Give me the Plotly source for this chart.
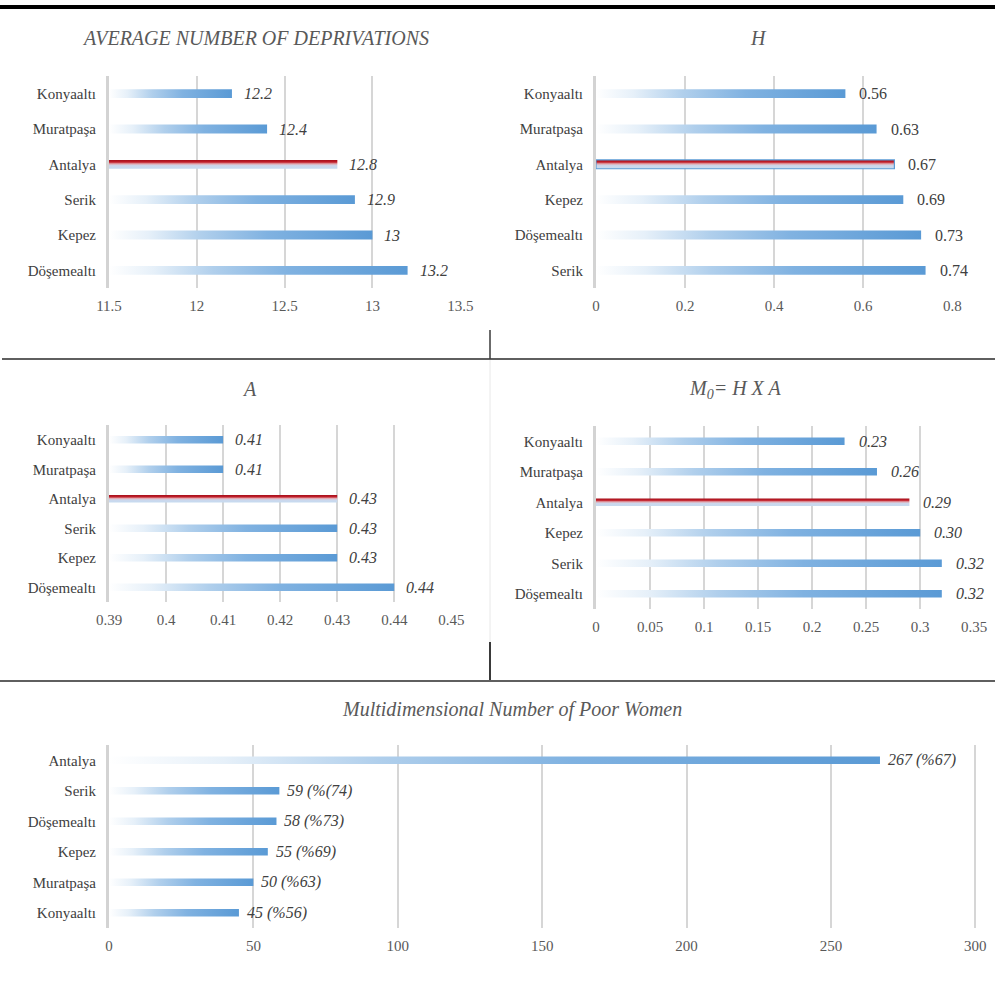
import plotly.graph_objects as go

# ---------------- data ----------------
avg_cats = ["Konyaaltı", "Muratpaşa", "Antalya", "Serik", "Kepez", "Döşemealtı"]
avg_vals = [12.2, 12.4, 12.8, 12.9, 13, 13.2]
avg_labels = ["12.2", "12.4", "12.8", "12.9", "13", "13.2"]
avg_ticks = [11.5, 12, 12.5, 13, 13.5]

h_cats = ["Konyaaltı", "Muratpaşa", "Antalya", "Kepez", "Döşemealtı", "Serik"]
h_vals = [0.56, 0.63, 0.67, 0.69, 0.73, 0.74]
h_labels = ["0.56", "0.63", "0.67", "0.69", "0.73", "0.74"]
h_ticks = [0, 0.2, 0.4, 0.6, 0.8]

a_cats = ["Konyaaltı", "Muratpaşa", "Antalya", "Serik", "Kepez", "Döşemealtı"]
a_vals = [0.41, 0.41, 0.43, 0.43, 0.43, 0.44]
a_labels = ["0.41", "0.41", "0.43", "0.43", "0.43", "0.44"]
a_ticks = [0.39, 0.40, 0.41, 0.42, 0.43, 0.44, 0.45]

m_cats = ["Konyaaltı", "Muratpaşa", "Antalya", "Kepez", "Serik", "Döşemealtı"]
m_vals = [0.23, 0.26, 0.29, 0.30, 0.32, 0.32]
m_labels = ["0.23", "0.26", "0.29", "0.30", "0.32", "0.32"]
m_ticks = [0, 0.05, 0.1, 0.15, 0.2, 0.25, 0.3, 0.35]

p_cats = ["Antalya", "Serik", "Döşemealtı", "Kepez", "Muratpaşa", "Konyaaltı"]
p_vals = [267, 59, 58, 55, 50, 45]
p_labels = ["267 (%67)", "59 (%(74)", "58 (%73)", "55 (%69)", "50 (%63)", "45 (%56)"]
p_ticks = [0, 50, 100, 150, 200, 250, 300]

# ---------------- layout helpers ----------------
W, H = 995, 996
def fx(p):
    return p / W
def fy(p):
    return 1 - p / H

SERIF = "Liberation Serif"
BLUE_SCALE = [[0, "rgba(255,255,255,1)"], [0.15, "#E6F0F9"], [0.35, "#B0CFEC"],
              [0.6, "#80B2E1"], [1, "#5A9AD5"]]
RED_SCALE = [[0, "#C6DBF0"], [0.35, "#CCD7EC"], [0.55, "#E2A9B0"],
             [0.75, "#C21F2B"], [1, "#A50F1A"]]

charts = [
    dict(cats=avg_cats, vals=avg_vals, labels=avg_labels, ticks=avg_ticks,
         xpx=(109, 461), ypx=(76, 288), title="AVERAGE NUMBER OF DEPRIVATIONS",
         tpos=(255, 38), tsize=20, italic=True, red=True, border=False, shift=10),
    dict(cats=h_cats, vals=h_vals, labels=h_labels, ticks=h_ticks,
         xpx=(596, 953), ypx=(76, 288), title="H",
         tpos=(758, 38), tsize=20, italic=False, red=True, border=True, shift=12),
    dict(cats=a_cats, vals=a_vals, labels=a_labels, ticks=a_ticks,
         xpx=(109, 452), ypx=(425, 602), title="A",
         tpos=(250, 389), tsize=20, italic=True, red=True, border=False, shift=10),
    dict(cats=m_cats, vals=m_vals, labels=m_labels, ticks=m_ticks,
         xpx=(596, 975), ypx=(426, 609), title="M<sub>0</sub>= H X A",
         tpos=(735, 389), tsize=20, italic=True, red=True, border=False, shift=12),
    dict(cats=p_cats, vals=p_vals, labels=p_labels, ticks=p_ticks,
         xpx=(109, 977), ypx=(745, 928), title="Multidimensional Number of Poor Women",
         tpos=(512, 709), tsize=20, italic=True, red=False, border=False, shift=6),
]

fig = go.Figure()
annotations = []
layout_axes = {}
HALF = 0.125

for k, ch in enumerate(charts, start=1):
    xa = "x" if k == 1 else f"x{k}"
    ya = "y" if k == 1 else f"y{k}"
    n = len(ch["cats"])
    xmin = ch["ticks"][0]
    xmax = ch["ticks"][-1]
    span = xmax - xmin
    pos = [n - 1 - i for i in range(n)]
    for i, (c, v) in enumerate(zip(ch["cats"], ch["vals"])):
        y0 = pos[i] - HALF
        y1 = pos[i] + HALF
        is_red = ch["red"] and c == "Antalya"
        if is_red:
            grad = dict(type="vertical", colorscale=RED_SCALE)
            line = dict(width=1.2, color="#5B9BD5") if ch["border"] else dict(width=0)
        else:
            grad = dict(type="horizontal", colorscale=BLUE_SCALE)
            line = dict(width=0)
        fig.add_trace(go.Scatter(
            x=[xmin, v, v, xmin, xmin], y=[y0, y0, y1, y1, y0],
            mode="lines", fill="toself", fillgradient=grad, line=line,
            xaxis=xa, yaxis=ya, hoverinfo="skip", showlegend=False))
        annotations.append(dict(
            x=v, y=pos[i], xref=xa, yref=ya, text=ch["labels"][i],
            showarrow=False, xanchor="left", yanchor="middle", xshift=ch["shift"],
            font=dict(family=SERIF, size=16, color="#404040",
                      style="italic" if ch["italic"] else "normal")))
    ax_key = "xaxis" if k == 1 else f"xaxis{k}"
    ay_key = "yaxis" if k == 1 else f"yaxis{k}"
    layout_axes[ax_key] = dict(
        domain=[fx(ch["xpx"][0]), fx(ch["xpx"][1])], anchor=ya, automargin=False,
        range=[xmin, xmax + span * 0.002], tickmode="array", tickvals=ch["ticks"],
        showgrid=True, gridcolor="#D6D6D6", gridwidth=2, zeroline=False,
        showline=False, ticks="outside", ticklen=4, tickcolor="rgba(0,0,0,0)",
        tickfont=dict(family=SERIF, size=15, color="#595959"), fixedrange=True)
    layout_axes[ay_key] = dict(
        domain=[fy(ch["ypx"][1]), fy(ch["ypx"][0])], anchor=xa, automargin=False,
        range=[-0.5, n - 0.5], tickmode="array", tickvals=pos, ticktext=ch["cats"],
        showgrid=False, zeroline=False, showline=True, linecolor="#D3D3D3", linewidth=3,
        ticks="outside", ticklen=7, tickcolor="rgba(0,0,0,0)",
        tickfont=dict(family=SERIF, size=15, color="#404040"), fixedrange=True)
    annotations.append(dict(
        x=fx(ch["tpos"][0]), y=fy(ch["tpos"][1]), xref="paper", yref="paper",
        text=ch["title"], showarrow=False, xanchor="center", yanchor="middle",
        font=dict(family=SERIF, size=ch["tsize"], color="#595959", style="italic")))

shapes = [
    dict(type="line", xref="paper", yref="paper", x0=0, x1=1, y0=fy(7), y1=fy(7),
         line=dict(color="#000000", width=4)),
    dict(type="line", xref="paper", yref="paper", x0=fx(2), x1=1, y0=fy(359), y1=fy(359),
         line=dict(color="#5F5F5F", width=2)),
    dict(type="line", xref="paper", yref="paper", x0=fx(490), x1=fx(490), y0=fy(330), y1=fy(359),
         line=dict(color="#3A3A3A", width=1.5)),
    dict(type="line", xref="paper", yref="paper", x0=fx(490), x1=fx(490), y0=fy(360), y1=fy(642),
         line=dict(color="#E8E8E8", width=1)),
    dict(type="line", xref="paper", yref="paper", x0=fx(490), x1=fx(490), y0=fy(642), y1=fy(681),
         line=dict(color="#3A3A3A", width=2)),
    dict(type="line", xref="paper", yref="paper", x0=0, x1=1, y0=fy(681), y1=fy(681),
         line=dict(color="#5F5F5F", width=2)),
]

fig.update_layout(
    template="none",
    width=W, height=H, margin=dict(l=0, r=0, t=0, b=0, pad=0, autoexpand=False),
    paper_bgcolor="white", plot_bgcolor="white", showlegend=False,
    font=dict(family=SERIF),
    annotations=annotations, shapes=shapes, **layout_axes)

fig.write_html("out.html")
